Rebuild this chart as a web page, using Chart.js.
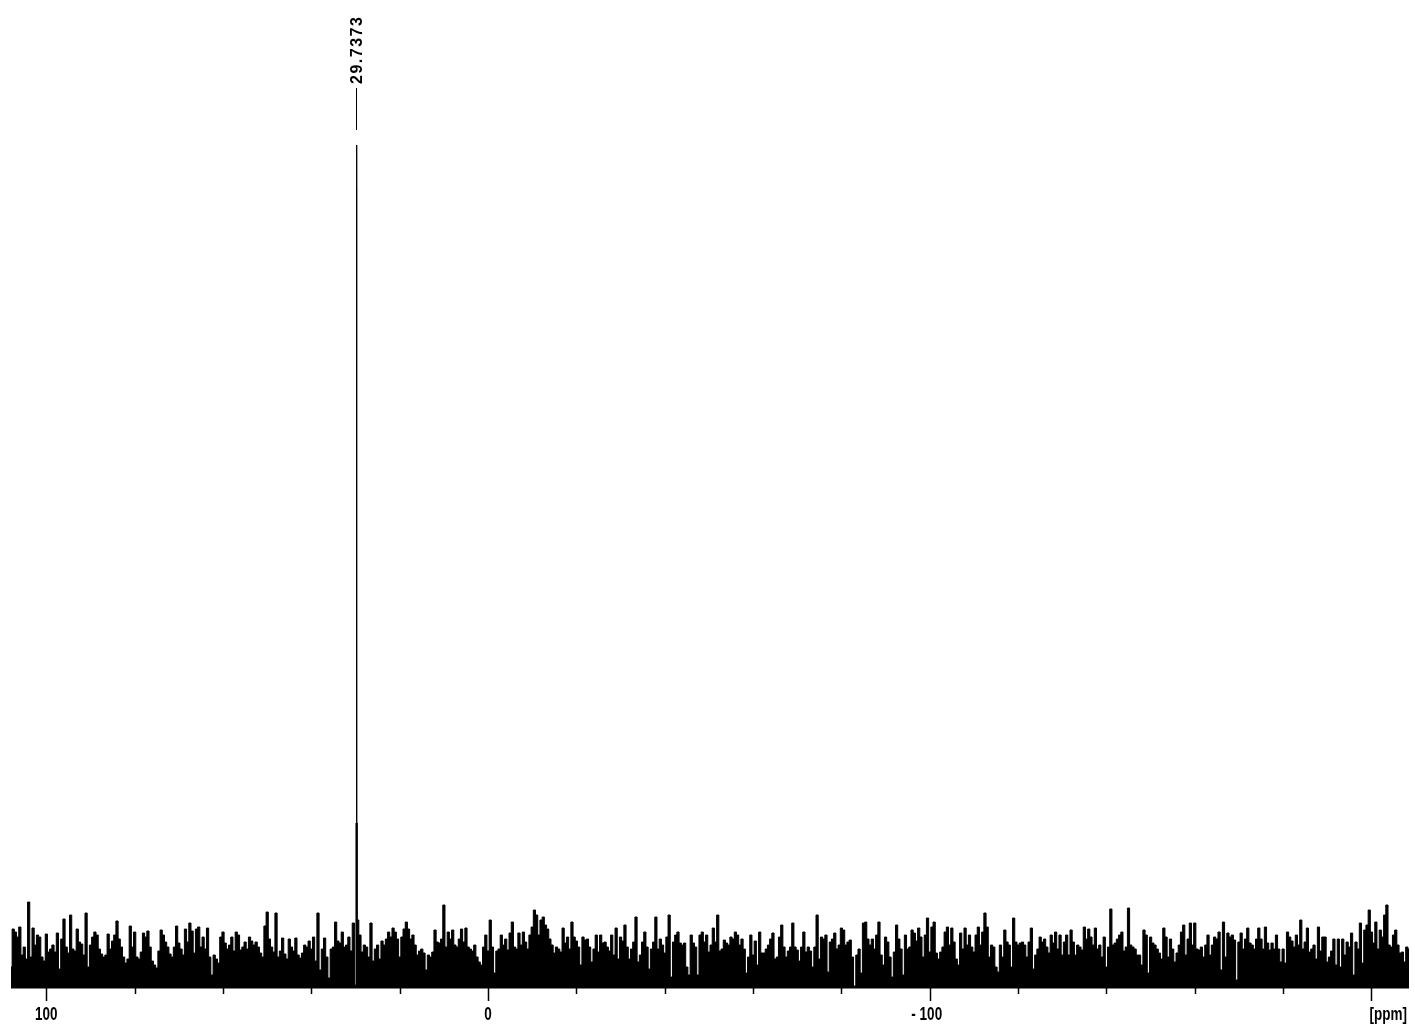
<!DOCTYPE html>
<html>
<head>
<meta charset="utf-8">
<script src="https://cdn.jsdelivr.net/npm/chart.js@4"></script>
<style>
    html, body { margin: 0; padding: 0; background: #fff; }
    #ramka { width: 1415px; height: 1026px; position: relative; }
</style>
</head>
<body>
<div id="ramka"><canvas id="widmo"></canvas></div>
<script>
// spektrum: punkty co 0.5 ppm od 108 ppm w dół, wysokość w jednostkach względnych
const PPM_START = 108;
const PPM_KROK = 0.5;

const SZUM_1 = [20, 58, 55, 50, 60, 32, 40, 28, 85, 30, 59, 42, 52, 50, 30, 26, 53, 35, 38, 42,
    35, 54, 18, 48, 68, 40, 34, 72, 38, 36, 58, 45, 43, 32, 74, 20, 42, 50, 55, 52,
    38, 33, 30, 32, 53, 38, 46, 52, 66, 48, 40, 30, 24, 28, 61, 40, 55, 30, 28, 35,
    54, 50, 56, 40, 26, 22, 19, 36, 57, 52, 45, 40, 33, 30, 40, 61, 44, 38, 32, 58,
    45, 64, 56, 34, 58, 60, 40, 50, 38, 59, 30, 12, 32, 28, 24, 50, 55, 44, 38, 42,
    50, 36];
const SZUM_2 = [55, 52, 37, 40, 45, 38, 50, 46, 42, 45, 40, 34, 30, 61, 75, 48, 40, 35, 74, 30,
    36, 49, 33, 28, 48, 40, 36, 49, 32, 29, 34, 42, 40, 46, 38, 50, 26, 74, 17, 38,
    49, 30, 9, 38, 40, 65, 46, 44, 55, 40, 42, 50, 36, 64, 2, 67, 52, 35, 42, 40,
    30, 64, 26, 38, 42, 28, 46, 42, 48, 55, 50, 59, 55, 48, 30, 50, 58, 65, 58, 48,
    52, 42, 32, 36, 38, 34, 17, 32, 30, 35, 57, 45, 44, 48, 82, 40, 55, 48, 57, 42,
    40, 48, 58, 45, 59, 40, 38];
const SZUM_3 = [36, 42, 30, 25, 22, 40, 52, 36, 67, 40, 14, 36, 38, 52, 42, 48, 37, 54, 65, 40,
    38, 54, 42, 55, 45, 38, 52, 60, 77, 72, 52, 67, 70, 62, 58, 48, 42, 34, 40, 38,
    35, 59, 44, 50, 38, 65, 50, 46, 40, 22, 50, 47, 48, 40, 25, 38, 52, 35, 52, 44,
    45, 40, 36, 52, 32, 59, 28, 50, 46, 62, 40, 28, 38, 45, 70, 25, 32, 45, 55, 40,
    18, 38, 45, 70, 38, 48, 42, 34, 50, 72, 10, 45, 52, 55, 44, 42, 44, 20, 12, 52,
    44, 40, 12, 52, 55, 45, 52];
const SZUM_4 = [35, 42, 59, 45, 72, 36, 38, 47, 44, 42, 50, 48, 55, 52, 42, 48, 38, 14, 30, 52,
    32, 46, 22, 55, 34, 34, 38, 42, 48, 54, 28, 30, 50, 62, 40, 30, 36, 40, 64, 40,
    37, 26, 40, 55, 35, 40, 36, 20, 40, 72, 28, 50, 48, 52, 15, 45, 48, 54, 38, 42,
    59, 57, 42, 45, 47, 30, 1, 32, 38, 14, 64, 65, 48, 42, 48, 38, 52, 65, 32, 22,
    50, 45, 30, 10, 35, 62, 48, 38, 12, 52, 38, 40, 57, 54, 46, 59, 50, 30, 52, 69,
    35, 60, 65, 34, 28, 35, 40];
const SZUM_5 = [55, 60, 42, 59, 45, 28, 22, 54, 38, 59, 42, 52, 40, 35, 52, 60, 42, 55, 74, 60,
    30, 42, 40, 20, 15, 42, 30, 57, 45, 42, 20, 69, 45, 42, 44, 45, 42, 30, 45, 59,
    18, 32, 38, 50, 45, 48, 40, 34, 52, 44, 55, 38, 52, 32, 45, 52, 32, 57, 45, 32,
    42, 40, 37, 60, 48, 58, 50, 42, 59, 38, 42, 30, 50, 20, 40, 78, 42, 44, 48, 52,
    55, 36, 40, 79, 42, 40, 38, 32, 32, 22, 57, 52, 14, 50, 44, 42, 38, 34, 28, 59,
    50, 30, 48, 38, 25, 34, 42];
const SZUM_6 = [55, 62, 32, 48, 64, 42, 64, 38, 37, 40, 30, 42, 52, 32, 42, 50, 48, 55, 17, 65,
    30, 54, 50, 52, 47, 7, 45, 54, 38, 48, 59, 44, 42, 38, 48, 59, 48, 38, 60, 44,
    37, 44, 38, 52, 38, 25, 38, 24, 55, 50, 46, 40, 52, 42, 67, 38, 45, 59, 35, 38,
    42, 28, 60, 36, 50, 50, 25, 30, 36, 48, 22, 48, 20, 48, 32, 45, 40, 54, 12, 45,
    38, 64, 24, 57, 62, 77, 55, 44, 65, 38, 57, 50, 72, 82, 42, 40, 52, 57, 42, 34,
    35, 25, 40, 38];

// sygnał główny
const PIK_PPM = [29.80, 29.76, 29.7373, 29.71, 29.67];
const PIK_WART = [164, 800, 842, 800, 164];
const PIK_ETYKIETA = '29.7373';

// oś ppm
const OS_MIN = -208.5;
const OS_MAX = 108;
const PODZIALKI_MALE = [100, 80, 60, 40, 20, 0, -20, -40, -60, -80, -100, -120, -140, -160, -180, -200];
const PODZIALKI_DUZE = [100, 0, -100, -200];
const ETYKIETY_OSI = ['100', '0', '- 100', '[ppm]'];

function zbudujWidmo() {
    const szum = [...SZUM_1, ...SZUM_2, ...SZUM_3, ...SZUM_4, ...SZUM_5, ...SZUM_6];
    const punkty = szum.map((w, i) => ({ x: PPM_START - i * PPM_KROK, y: w }));
    PIK_PPM.forEach((p, i) => punkty.push({ x: p, y: PIK_WART[i] }));
    punkty.sort((a, b) => b.x - a.x);
    return punkty;
}

const osBrukera = {
    id: 'osBrukera',
    afterDraw(chart) {
        const ctx = chart.ctx;
        const sx = chart.scales.x;
        const obszar = chart.chartArea;
        const y0 = obszar.bottom;
        ctx.save();
        ctx.strokeStyle = '#000';
        ctx.fillStyle = '#000';

        // linia osi
        ctx.lineWidth = 2;
        ctx.beginPath();
        ctx.moveTo(obszar.left, y0 + 0.5);
        ctx.lineTo(obszar.right, y0 + 0.5);
        ctx.stroke();

        // podziałki
        ctx.lineWidth = 1.5;
        PODZIALKI_MALE.forEach(v => {
            const px = Math.round(sx.getPixelForValue(v)) + 0.5;
            const dl = PODZIALKI_DUZE.includes(v) ? 14 : 7;
            ctx.beginPath();
            ctx.moveTo(px, y0);
            ctx.lineTo(px, y0 + dl);
            ctx.stroke();
        });

        // etykiety (wąskie, wysokie - jak w TopSpin)
        ctx.font = 'bold 13.5px "Liberation Sans", Arial, sans-serif';
        ctx.textBaseline = 'middle';
        PODZIALKI_DUZE.forEach((v, i) => {
            const px = sx.getPixelForValue(v);
            const tekst = ETYKIETY_OSI[i];
            ctx.save();
            if (tekst === '[ppm]') {
                ctx.textAlign = 'left';
                ctx.translate(px - 2, 1015);
            } else {
                ctx.textAlign = 'center';
                ctx.translate(px - (tekst.startsWith('-') ? 3 : 0), 1015);
            }
            ctx.scale(1, 1.4);
            ctx.fillText(tekst, 0, 0);
            ctx.restore();
        });

        // opis piku
        const xp = Math.round(sx.getPixelForValue(29.7373)) - 0.5;
        ctx.lineWidth = 1;
        ctx.beginPath();
        ctx.moveTo(xp, 88);
        ctx.lineTo(xp, 130);
        ctx.stroke();
        ctx.save();
        ctx.translate(xp + 1, 84);
        ctx.rotate(-Math.PI / 2);
        ctx.font = 'bold 16px "Liberation Sans", Arial, sans-serif';
        ctx.letterSpacing = '1.5px';
        ctx.textAlign = 'left';
        ctx.textBaseline = 'middle';
        ctx.fillText(PIK_ETYKIETA, 0, 0);
        ctx.restore();

        ctx.restore();
    }
};

window.addEventListener('DOMContentLoaded', () => {
    const ctx = document.getElementById('widmo').getContext('2d');
    new Chart(ctx, {
        type: 'line',
        data: {
            datasets: [{
                data: zbudujWidmo(),
                borderColor: '#000',
                backgroundColor: '#000',
                borderWidth: 1,
                pointRadius: 0,
                tension: 0,
                stepped: 'middle',
                fill: 'origin'
            }]
        },
        options: {
            responsive: true,
            maintainAspectRatio: false,
            animation: false,
            layout: { padding: { left: 11, right: 6, top: 0, bottom: 39 } },
            scales: {
                x: { type: 'linear', reverse: true, min: OS_MIN, max: OS_MAX, display: false },
                y: { min: 0, max: 987, display: false }
            },
            plugins: {
                legend: { display: false },
                tooltip: { enabled: false }
            }
        },
        plugins: [osBrukera]
    });
});
</script>
</body>
</html>
